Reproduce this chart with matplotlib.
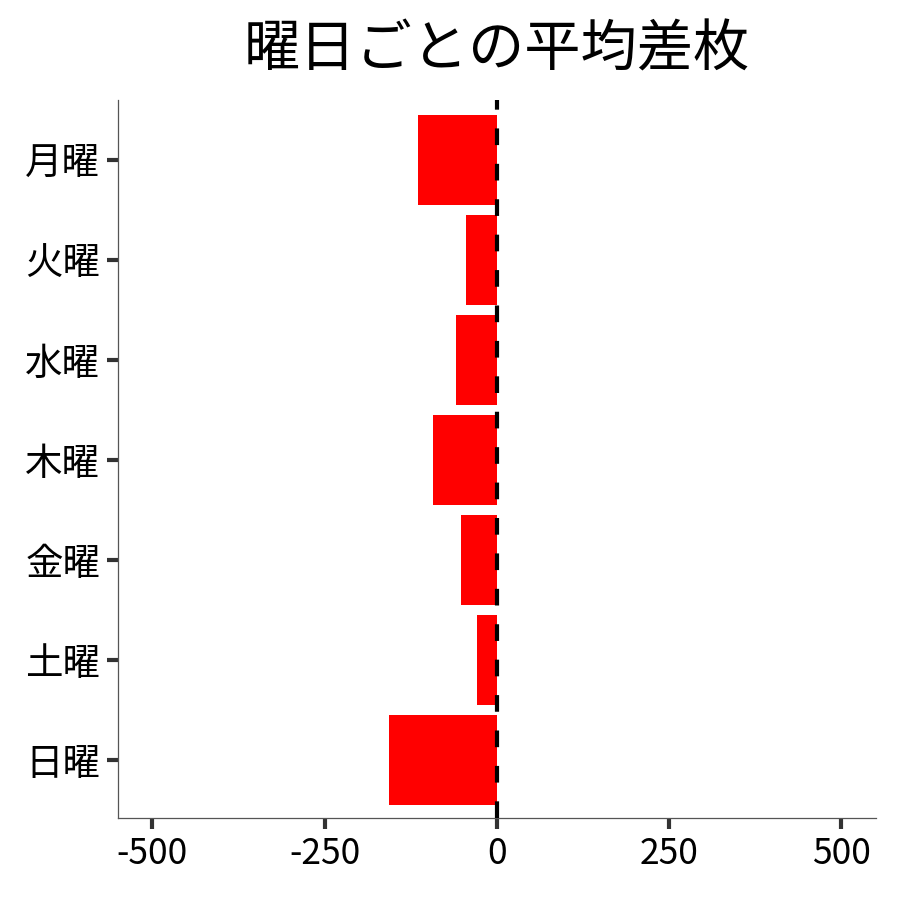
import matplotlib
matplotlib.use("Agg")
import matplotlib.pyplot as plt

plt.rcParams['font.family'] = ['Noto Sans CJK JP', 'DejaVu Sans']

# ── data ─────────────────────────────────────────────────────────────────────
days = ["月曜", "火曜", "水曜", "木曜", "金曜", "土曜", "日曜"]
avg_diff = [-114, -45, -59, -92, -52, -29, -156]
xticks = [-500, -250, 0, 250, 500]

# ── figure ───────────────────────────────────────────────────────────────────
fig = plt.figure(figsize=(6, 6), dpi=150)
ax = fig.add_axes([0.131, 0.091, 0.842, 0.798])

pos = list(range(len(days)))
ax.barh(pos, avg_diff, height=0.9, color="red", zorder=2)
ax.axvline(0, color="black", lw=2, dashes=(4, 4.5), zorder=3)

ax.set_yticks(pos)
ax.set_yticklabels(days)
ax.set_ylim(len(days) - 0.42, -0.6)
ax.set_xlim(-550, 550)
ax.set_xticks(xticks)
ax.set_xticklabels([str(v) for v in xticks])

for side in ("top", "right"):
    ax.spines[side].set_visible(False)
for side in ("left", "bottom"):
    ax.spines[side].set_color("#555555")
    ax.spines[side].set_linewidth(0.6)

ax.tick_params(axis="both", colors="#333333", labelcolor="black",
               length=5.5, width=2, pad=3)
ax.tick_params(axis="x", labelsize=17)
ax.tick_params(axis="y", labelsize=18)

ax.set_title("曜日ごとの平均差枚", fontsize=27, pad=16)

fig.savefig("out.png", dpi=150)
